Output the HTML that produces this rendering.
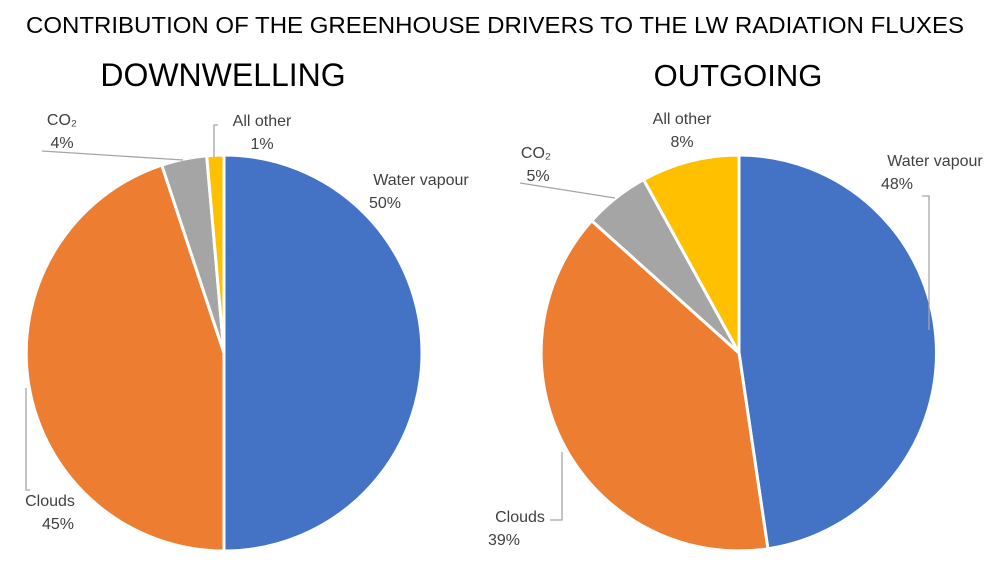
<!DOCTYPE html>
<html><head><meta charset="utf-8"><style>body{margin:0;background:#fff}</style></head><body>
<svg width="1000" height="581" xmlns="http://www.w3.org/2000/svg" font-family="Liberation Sans, sans-serif">
<rect width="1000" height="581" fill="#fff"/>
<text x="495" y="33" font-size="23.5" text-anchor="middle" fill="#000" textLength="938" lengthAdjust="spacingAndGlyphs">CONTRIBUTION OF THE GREENHOUSE DRIVERS TO THE LW RADIATION FLUXES</text>
<text x="223" y="86" font-size="32" text-anchor="middle" fill="#000">DOWNWELLING</text>
<text x="738" y="86" font-size="31" text-anchor="middle" fill="#000">OUTGOING</text>
<g stroke="#fff" stroke-width="3" stroke-linejoin="round">
<path d="M224,353 L224,155 A198,198 0 0 1 224,551 Z" fill="#4472C4"/>
<path d="M224,353 L224,551 A198,198 0 0 1 161.8,165.1 Z" fill="#ED7D31"/>
<path d="M224,353 L161.8,165.1 A198,198 0 0 1 206.7,155.8 Z" fill="#A5A5A5"/>
<path d="M224,353 L206.7,155.8 A198,198 0 0 1 224,155 Z" fill="#FFC000"/>
<path d="M739,353 L739,155 A198,198 0 0 1 767.9,548.8 Z" fill="#4472C4"/>
<path d="M739,353 L767.9,548.8 A198,198 0 0 1 591.7,220.7 Z" fill="#ED7D31"/>
<path d="M739,353 L591.7,220.7 A198,198 0 0 1 643.6,179.6 Z" fill="#A5A5A5"/>
<path d="M739,353 L643.6,179.6 A198,198 0 0 1 739,155 Z" fill="#FFC000"/>
</g>
<g stroke="#a6a6a6" stroke-width="1.3" fill="none">
<polyline points="42,151 183,160"/>
<polyline points="218,125 214,125 214,157"/>
<polyline points="30,490 26,490 26,388"/>
<polyline points="520,183 615,198"/>
<polyline points="922,196 929,196 929,330"/>
<polyline points="550,520 562,520 562,452"/>
</g>
<g font-size="16" fill="#404040" text-anchor="middle">
<text x="62" y="125">CO₂</text><text x="62" y="148">4%</text>
<text x="262" y="126">All other</text><text x="262" y="149">1%</text>
<text x="421" y="185">Water vapour</text><text x="385" y="208">50%</text>
<text x="50" y="506">Clouds</text><text x="58" y="529">45%</text>
<text x="536" y="158">CO₂</text><text x="538" y="181">5%</text>
<text x="682" y="124">All other</text><text x="682" y="147">8%</text>
<text x="935" y="166">Water vapour</text><text x="897" y="189">48%</text>
<text x="520" y="522">Clouds</text><text x="504" y="545">39%</text>
</g>
</svg>
</body></html>
